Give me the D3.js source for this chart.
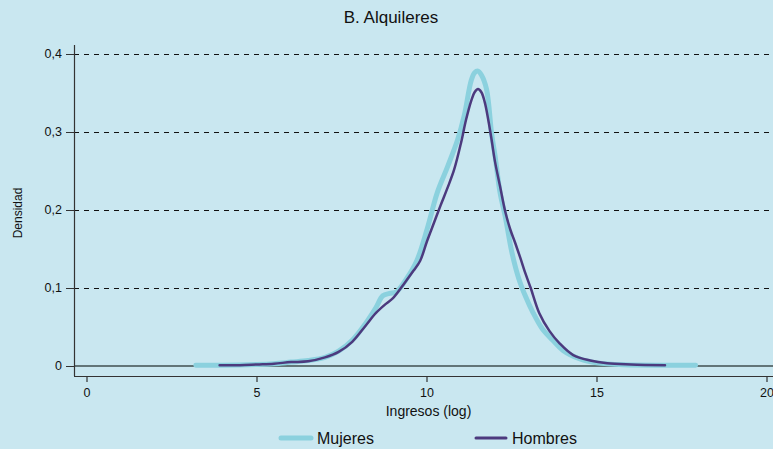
<!DOCTYPE html>
<html><head><meta charset="utf-8">
<script src="https://cdn.jsdelivr.net/npm/d3@7"></script>
<style>html,body{margin:0;padding:0;background:#c9e7f0;}svg{display:block;font-family:"Liberation Sans",Arial,sans-serif;}</style>
</head><body>
<svg id="c" width="773" height="449"></svg>
<script>
const title = "B. Alquileres";
const xLabel = "Ingresos (log)";
const yLabel = "Densidad";
const xTicks = [0, 5, 10, 15, 20];
const yTicks = [0, 0.1, 0.2, 0.3, 0.4];
const yTickLabels = ["0", "0,1", "0,2", "0,3", "0,4"];
const seriesNames = ["Mujeres", "Hombres"];

const mujeresX = [3.2,4.0,5.0,5.5,6.0,6.5,7.0,7.4,7.8,8.2,8.5,8.7,8.9,9.1,9.4,9.7,10.0,10.3,10.6,10.9,11.1,11.3,11.4,11.5,11.6,11.75,11.9,12.0,12.15,12.3,12.5,12.7,12.9,13.1,13.4,13.7,14.0,14.5,15.0,15.8,17.0,17.9];
const mujeresY = [0.001,0.001,0.002,0.003,0.005,0.007,0.011,0.019,0.033,0.055,0.075,0.09,0.093,0.095,0.112,0.135,0.175,0.222,0.255,0.29,0.322,0.366,0.376,0.378,0.373,0.355,0.298,0.27,0.222,0.192,0.145,0.112,0.089,0.07,0.047,0.033,0.02,0.009,0.004,0.0015,0.001,0.001];

const hombresX = [3.9,4.5,5.0,5.5,6.0,6.5,7.0,7.4,7.8,8.2,8.5,8.8,9.0,9.3,9.6,9.8,10.0,10.2,10.4,10.6,10.8,11.0,11.15,11.3,11.4,11.5,11.6,11.7,11.8,11.9,12.0,12.15,12.3,12.45,12.6,12.75,12.9,13.05,13.3,13.6,13.9,14.3,14.8,15.3,16.0,17.0];
const hombresY = [0.001,0.001,0.002,0.003,0.005,0.006,0.011,0.018,0.031,0.052,0.068,0.08,0.087,0.104,0.122,0.135,0.16,0.183,0.206,0.228,0.252,0.286,0.316,0.34,0.351,0.355,0.351,0.338,0.316,0.29,0.262,0.23,0.198,0.175,0.157,0.138,0.118,0.1,0.068,0.045,0.029,0.014,0.007,0.0035,0.002,0.001];

const colors = {Mujeres: "#8bd1de", Hombres: "#4c3a7e"};

const svg = d3.select("#c");
const x = d3.scaleLinear().domain([0, 20]).range([87, 767]);
const y = d3.scaleLinear().domain([0, 0.4]).range([366, 54]);
const cy = v => Math.round(y(v)) + 0.5;

svg.append("text").attr("x", 391).attr("y", 23).attr("text-anchor", "middle")
  .attr("font-size", 17).attr("fill", "#111").text(title);

// gridlines
yTicks.forEach((t, i) => {
  if (t > 0) {
    svg.append("line").attr("x1", 74).attr("x2", 773).attr("y1", cy(t)).attr("y2", cy(t))
      .attr("stroke", "#111").attr("stroke-width", 1).attr("stroke-dasharray", "5,5");
  }
  svg.append("line").attr("x1", 66).attr("x2", 74).attr("y1", cy(t)).attr("y2", cy(t))
    .attr("stroke", "#333").attr("stroke-width", 1);
  svg.append("text").attr("x", 62).attr("y", y(t) + 4).attr("text-anchor", "end")
    .attr("font-size", 12.5).attr("fill", "#111").text(yTickLabels[i]);
});
// zero line
svg.append("line").attr("x1", 74).attr("x2", 773).attr("y1", y(0)).attr("y2", y(0))
  .attr("stroke", "#3f4f50").attr("stroke-width", 1.5);

// axes lines
svg.append("line").attr("x1", 74.5).attr("x2", 74.5).attr("y1", 45).attr("y2", 376)
  .attr("stroke", "#333").attr("stroke-width", 1.2);
svg.append("line").attr("x1", 74).attr("x2", 773).attr("y1", 376.5).attr("y2", 376.5)
  .attr("stroke", "#333").attr("stroke-width", 1.2);

xTicks.forEach(t => {
  svg.append("line").attr("x1", x(t)).attr("x2", x(t)).attr("y1", 376).attr("y2", 382)
    .attr("stroke", "#333").attr("stroke-width", 1.2);
  svg.append("text").attr("x", x(t)).attr("y", 397).attr("text-anchor", "middle")
    .attr("font-size", 12.5).attr("fill", "#111").text(t);
});

svg.append("text").attr("x", 428.5).attr("y", 416).attr("text-anchor", "middle")
  .attr("font-size", 14).attr("fill", "#111").text(xLabel);
svg.append("text").attr("transform", "translate(22,213) rotate(-90)").attr("text-anchor", "middle")
  .attr("font-size", 12).attr("fill", "#111").text(yLabel);

const line = d3.line().x(d => x(d[0])).y(d => y(d[1])).curve(d3.curveCatmullRom.alpha(0.5));
const mData = d3.zip(mujeresX, mujeresY);
const hData = d3.zip(hombresX, hombresY);

svg.append("path").attr("d", line(mData)).attr("fill", "none")
  .attr("stroke", colors.Mujeres).attr("stroke-width", 5).attr("stroke-linecap", "round");
svg.append("path").attr("d", line(hData)).attr("fill", "none")
  .attr("stroke", colors.Hombres).attr("stroke-width", 2.5).attr("stroke-linecap", "round");

// legend
const leg = [{n: seriesNames[0], x: 281, w: 5}, {n: seriesNames[1], x: 476, w: 3}];
leg.forEach(l => {
  svg.append("line").attr("x1", l.x).attr("x2", l.x + 30).attr("y1", 438).attr("y2", 438)
    .attr("stroke", colors[l.n]).attr("stroke-width", l.w).attr("stroke-linecap", "round");
  svg.append("text").attr("x", l.x + 36).attr("y", 444).attr("font-size", 16)
    .attr("fill", "#111").text(l.n);
});
</script>
</body></html>
